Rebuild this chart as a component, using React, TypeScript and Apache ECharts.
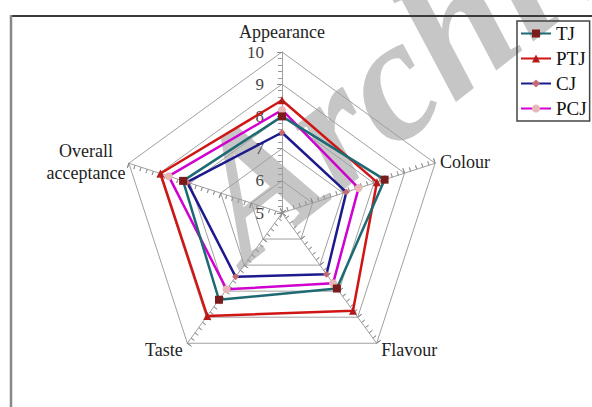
import React, { useEffect, useRef } from 'react';
import * as echarts from 'echarts';

// ---- data ----
const indicators = ['Appearance', 'Overall acceptance', 'Taste', 'Flavour', 'Colour'];
const seriesNames = ['TJ', 'PTJ', 'CJ', 'PCJ'];
const TJ = [8.0, 8.23, 8.33, 7.9, 8.35];
const PTJ = [8.5, 8.97, 8.95, 8.75, 8.1];
const CJ = [7.5, 8.1, 7.45, 7.35, 7.1];
const PCJ = [8.2, 8.7, 7.93, 7.7, 7.5];
const seriesValues = [TJ, PTJ, CJ, PCJ];
const scaleMin = 5;
const scaleMax = 10;
const watermarkText = 'Archive';

// ---- styles ----
const lineColors = ['#1d6a72', '#d01515', '#1c1a8c', '#d000d0'];
const markerColors = ['#7b1c1c', '#b51a1a', '#c46a72', '#e8b8b8'];
const markerShapes = ['rect', 'triangle', 'diamond', 'circle'];
const markerSizes = [8, 8, 7, 8];
const nameGaps = [11, 3, 8, 8, 5];
const FONT = '"Liberation Serif", "Times New Roman", serif';

const App: React.FC = () => {
  const ref = useRef<HTMLDivElement>(null);
  useEffect(() => {
    if (!ref.current) return;
    const chart = echarts.init(ref.current, undefined, { renderer: 'svg' });
    const center = [282, 213];
    const radius = 161;

    const mainIndicators = indicators.map((name, i) => ({
      name,
      min: scaleMin,
      max: scaleMax,
      nameGap: nameGaps[i],
      axisLabel: i === 0
        ? { show: true, color: '#444', fontFamily: FONT, fontSize: 17, margin: 18 }
        : { show: false },
      minorTick: { show: true, splitNumber: 5, length: 4, lineStyle: { color: '#9a9a9a', width: 1 } },
    }));
    const tickIndicators = indicators.map(() => ({
      name: '',
      min: scaleMin,
      max: scaleMax,
      axisLabel: { show: false },
      minorTick: { show: true, splitNumber: 5, length: 4, lineStyle: { color: '#9a9a9a', width: 1 } },
    }));

    const legendLineSeries = seriesNames.map((name, i) => ({
      type: 'line',
      name,
      data: [],
      xAxisIndex: 0,
      yAxisIndex: 0,
      symbol: markerShapes[i],
      symbolSize: markerSizes[i],
      lineStyle: { color: lineColors[i], width: 2.5 },
      itemStyle: { color: markerColors[i] },
    }));

    const radarSeries = seriesNames.map((name, i) => ({
      type: 'radar',
      name,
      radarIndex: 0,
      z: 3 + (4 - i),
      symbol: markerShapes[i],
      symbolSize: markerSizes[i],
      lineStyle: { color: lineColors[i], width: 2.5 },
      itemStyle: { color: markerColors[i] },
      data: [{ name, value: seriesValues[i] }],
    }));

    chart.setOption({
      animation: false,
      backgroundColor: '#ffffff',
      grid: { left: 0, top: 0, width: 1, height: 1, show: false },
      xAxis: { type: 'category', show: false, data: [] },
      yAxis: { type: 'value', show: false },
      legend: {
        orient: 'vertical',
        left: 517,
        top: 21,
        padding: [3, 3, 3, 3],
        borderColor: '#444',
        borderWidth: 1.5,
        itemWidth: 30,
        itemHeight: 10,
        itemGap: 6,
        data: seriesNames,
        textStyle: { fontFamily: FONT, fontSize: 19, color: '#111', lineHeight: 19 },
      },
      radar: [
        {
          center,
          radius,
          shape: 'polygon',
          splitNumber: 5,
          indicator: mainIndicators,
          nameGap: 8,
          axisName: {
            color: '#222',
            fontFamily: FONT,
            fontSize: 18,
            formatter: (v: string) =>
              v === 'Overall acceptance' ? '{c|Overall}\n{c|acceptance}' : v,
            rich: {
              c: { width: 80, align: 'center', fontFamily: FONT, fontSize: 18, lineHeight: 22, color: '#222' },
            },
          },
          axisLine: { show: true, lineStyle: { color: '#a0a0a0', width: 1 } },
          splitLine: { show: true, lineStyle: { color: '#a0a0a0', width: 1 } },
          splitArea: { show: false },
          axisTick: { show: true, length: 5, lineStyle: { color: '#8a8a8a', width: 1 } },
        },
        {
          center,
          radius,
          shape: 'polygon',
          splitNumber: 5,
          indicator: tickIndicators,
          axisName: { show: false },
          axisLine: { show: false },
          splitLine: { show: false },
          splitArea: { show: false },
          axisTick: { show: true, inside: true, length: 5, lineStyle: { color: '#8a8a8a', width: 1 } },
        },
      ],
      graphic: [
        {
          type: 'text',
          x: 210,
          y: 219,
          rotation: 0.663,
          z: -10,
          silent: true,
          style: {
            text: watermarkText,
            font: 'italic bold 175px "Liberation Serif"',
            fill: '#c6c6c6',
            align: 'left',
            verticalAlign: 'middle',
          },
        },
        {
          type: 'line',
          z: 10,
          shape: { x1: 10, y1: 16, x2: 600, y2: 16 },
          style: { stroke: '#3a3a3a', lineWidth: 2 },
        },
        {
          type: 'line',
          z: 10,
          shape: { x1: 11, y1: 15, x2: 11, y2: 420 },
          style: { stroke: '#888', lineWidth: 2.5 },
        },
      ],
      series: [...legendLineSeries, ...radarSeries],
    });
    return () => chart.dispose();
  }, []);
  return (
    <div
      ref={ref}
      style={{ position: 'absolute', left: 0, top: 0, width: 592, height: 407 }}
    />
  );
};

export default App;
